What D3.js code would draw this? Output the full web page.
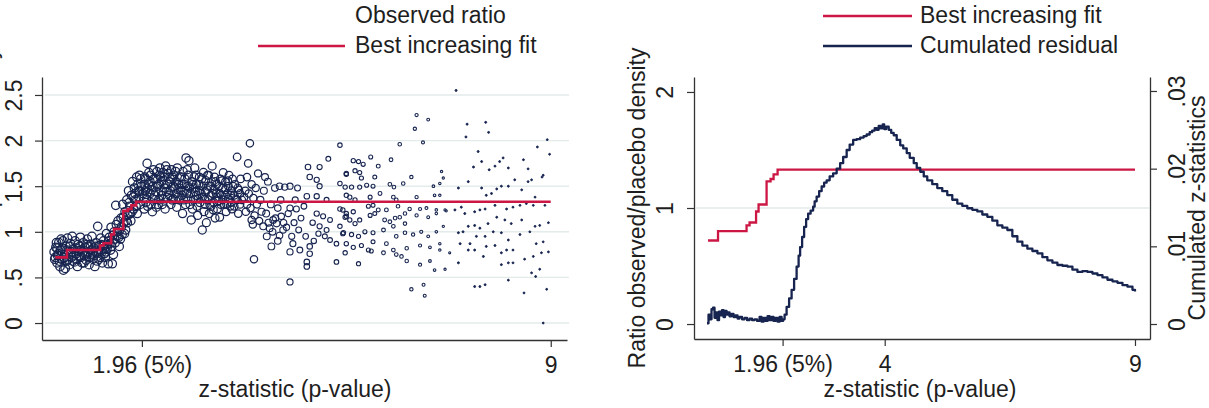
<!DOCTYPE html>
<html>
<head>
<meta charset="utf-8">
<script src="https://cdn.jsdelivr.net/npm/d3@7"></script>
<style>
  body { margin: 0; background: #fff; }
  text { font-family: Arial, "Liberation Sans", sans-serif; fill: #1e1e1e; }
</style>
</head>
<body>
<svg width="1209" height="408"></svg>
<script>
// ---- data ----
// best increasing fit (step function), z-statistic -> ratio
const fitZ = [0.47, 0.67, 1.24, 1.3, 1.43, 1.48, 1.64, 1.72, 1.78, 1.86, 9.0];
const fitR = [0.72, 0.80, 0.85, 0.875, 0.97, 1.03, 1.23, 1.25, 1.29, 1.33, 1.33];

// observed ratio, [z, ratio]
const obsLow = [[0.45,0.78],[0.46,0.7],[0.47,0.72],[0.48,0.83],[0.49,0.88],[0.5,0.66],[0.5,0.82],[0.51,0.74],[0.52,0.76],[0.53,0.88],[0.54,0.68],[0.55,0.62],[0.56,0.8],[0.57,0.92],[0.58,0.7],[0.59,0.82],[0.6,0.9],[0.61,0.58],[0.62,0.72],[0.63,0.75],[0.64,0.6],[0.65,0.84],[0.66,0.68],[0.67,0.8],[0.68,0.93],[0.69,0.7],[0.7,0.78],[0.71,0.64],[0.72,0.84],[0.73,0.87],[0.74,0.78],[0.75,0.72],[0.76,0.95],[0.77,0.68],[0.78,0.81],[0.79,0.74],[0.8,0.67],[0.81,0.9],[0.82,0.82],[0.83,0.76],[0.84,0.7],[0.85,0.62],[0.86,0.86],[0.87,0.79],[0.88,0.73],[0.89,0.84],[0.9,0.94],[0.91,0.72],[0.92,0.8],[0.93,0.66],[0.94,0.78],[0.95,0.88],[0.96,0.66],[0.97,0.74],[0.98,0.83],[0.99,0.76],[1.0,0.69],[1.01,0.86],[1.02,0.92],[1.03,0.78],[1.04,0.84],[1.05,0.64],[1.06,0.72],[1.07,0.86],[1.08,0.75],[1.09,0.8],[1.1,0.95],[1.11,0.77],[1.12,0.7],[1.13,0.82],[1.14,0.74],[1.15,0.62],[1.16,0.84],[1.17,0.88],[1.18,0.77],[1.19,0.68],[1.2,1.06],[1.21,0.78],[1.22,0.7],[1.23,0.85],[1.24,0.72],[1.25,0.93],[1.26,0.86],[1.27,0.78],[1.28,0.66],[1.29,0.84],[1.3,0.9],[1.31,0.76],[1.32,0.82],[1.33,0.72],[1.34,0.78],[1.35,0.98],[1.36,0.82],[1.37,0.86],[1.38,0.65],[1.39,0.9],[1.4,0.94],[1.41,0.87],[1.42,0.8],[1.43,1.05],[1.44,0.84],[1.45,0.65],[1.46,0.96],[1.47,0.75],[1.48,1.0],[1.49,0.92],[1.5,0.88],[1.51,1.29],[1.52,1.08],[1.53,0.95],[1.54,1.0],[1.55,1.12],[1.56,0.94],[1.57,0.84],[1.58,1.02],[1.59,0.92],[1.6,1.15],[1.61,1.06],[1.62,0.97],[1.63,1.3],[1.64,1.16],[1.65,1.1],[1.66,0.98],[1.67,1.22],[1.68,1.02],[1.69,1.12],[1.7,1.35],[1.71,1.1],[1.72,1.18],[1.73,1.45],[1.74,1.32],[1.75,1.28],[1.76,1.2],[1.77,1.12],[1.78,1.4],[1.79,1.22],[1.8,1.55],[1.81,1.38],[1.82,1.25],[1.83,1.48],[1.84,1.42],[1.85,1.35],[1.86,1.28],[1.87,1.6],[1.88,1.2],[1.89,1.52],[1.9,1.45],[1.91,1.38],[1.92,1.62],[1.92,1.44],[1.93,1.3],[1.94,1.58],[1.95,1.5]];

const obsMid = [[1.98,1.42],[2.0,1.25],[2.0,1.38],[2.0,1.52],[2.01,1.6],[2.02,1.45],[2.02,1.58],[2.03,1.32],[2.04,1.36],[2.05,1.75],[2.05,1.48],[2.06,1.28],[2.07,1.52],[2.08,1.65],[2.1,1.55],[2.1,1.42],[2.11,1.62],[2.12,1.3],[2.13,1.46],[2.14,1.22],[2.15,1.36],[2.15,1.5],[2.16,1.68],[2.17,1.58],[2.18,1.4],[2.2,1.44],[2.2,1.58],[2.21,1.27],[2.22,1.66],[2.23,1.5],[2.24,1.3],[2.25,1.52],[2.25,1.35],[2.26,1.62],[2.27,1.7],[2.28,1.6],[2.29,1.45],[2.3,1.4],[2.3,1.55],[2.31,1.3],[2.32,1.65],[2.33,1.36],[2.34,1.52],[2.35,1.48],[2.35,1.6],[2.36,1.25],[2.37,1.72],[2.38,1.44],[2.39,1.68],[2.4,1.38],[2.4,1.52],[2.41,1.64],[2.43,1.4],[2.44,1.55],[2.45,1.45],[2.45,1.58],[2.46,1.3],[2.47,1.68],[2.48,1.35],[2.49,1.6],[2.5,1.5],[2.5,1.36],[2.51,1.62],[2.53,1.48],[2.54,1.66],[2.55,1.42],[2.55,1.55],[2.56,1.27],[2.57,1.7],[2.58,1.38],[2.59,1.52],[2.6,1.48],[2.6,1.35],[2.61,1.6],[2.63,1.45],[2.64,1.6],[2.65,1.52],[2.65,1.4],[2.66,1.2],[2.67,1.66],[2.68,1.35],[2.69,1.52],[2.7,1.45],[2.7,1.58],[2.71,1.3],[2.72,1.81],[2.73,1.42],[2.74,1.68],[2.75,1.5],[2.75,1.36],[2.76,1.62],[2.77,1.78],[2.78,1.48],[2.79,1.3],[2.8,1.42],[2.81,1.13],[2.82,1.55],[2.83,1.25],[2.84,1.52],[2.85,1.48],[2.85,1.35],[2.86,1.6],[2.87,1.7],[2.88,1.44],[2.89,1.62],[2.9,1.4],[2.9,1.52],[2.91,1.28],[2.92,1.18],[2.93,1.36],[2.94,1.52],[2.95,1.45],[2.95,1.6],[2.96,1.32],[2.98,1.42],[2.99,1.58],[3.0,1.02],[3.0,1.38],[3.01,1.5],[3.02,1.65],[3.03,1.22],[3.04,1.36],[3.05,1.44],[3.05,1.3],[3.06,1.56],[3.07,1.1],[3.08,1.46],[3.09,1.62],[3.1,1.35],[3.1,1.5],[3.11,1.62],[3.12,1.2],[3.13,1.3],[3.14,1.5],[3.15,1.4],[3.15,1.28],[3.16,1.55],[3.17,1.72],[3.18,1.42],[3.19,1.24],[3.2,1.46],[3.2,1.32],[3.21,1.6],[3.22,1.15],[3.23,1.55],[3.24,1.42],[3.25,1.38],[3.25,1.52],[3.26,1.25],[3.28,1.34],[3.29,1.5],[3.3,1.16],[3.3,1.42],[3.31,1.58],[3.32,1.3],[3.33,1.4],[3.34,1.56],[3.35,1.48],[3.35,1.35],[3.36,1.65],[3.38,1.3],[3.39,1.46],[3.4,1.4],[3.4,1.55],[3.41,1.22],[3.42,1.3],[3.43,1.42],[3.44,1.56],[3.45,1.36],[3.45,1.5],[3.46,1.62],[3.48,1.28],[3.49,1.4],[3.5,1.32],[3.5,1.45],[3.51,1.25],[3.52,1.58],[3.53,1.5],[3.55,1.4],[3.55,1.28],[3.56,1.52],[3.58,1.36],[3.6,1.82],[3.6,1.35],[3.61,1.48],[3.62,1.2],[3.63,1.46],[3.65,1.3],[3.65,1.42],[3.66,1.58],[3.68,1.35]];

const obsWide = [[3.72,1.38],[3.74,1.45],[3.75,1.22],[3.77,1.6],[3.77,1.3],[3.79,1.75],[3.8,1.42],[3.82,1.97],[3.83,1.26],[3.85,1.52],[3.85,1.13],[3.87,1.08],[3.88,1.37],[3.89,0.7],[3.9,1.18],[3.92,1.48],[3.94,1.3],[3.96,1.64],[3.98,1.12],[4.0,1.35],[4.02,1.22],[4.05,1.06],[4.06,1.45],[4.08,1.6],[4.1,1.2],[4.11,0.95],[4.13,1.55],[4.14,1.1],[4.16,1.04],[4.18,1.3],[4.19,0.84],[4.21,1.0],[4.22,1.13],[4.25,1.48],[4.26,1.15],[4.28,1.09],[4.3,1.26],[4.3,0.9],[4.33,1.5],[4.33,0.96],[4.35,1.35],[4.36,1.17],[4.39,1.02],[4.4,1.1],[4.42,1.49],[4.45,1.05],[4.48,1.2],[4.51,1.5],[4.51,1.26],[4.51,0.78],[4.51,0.45],[4.54,0.95],[4.56,0.87],[4.58,1.1],[4.6,1.35],[4.62,1.25],[4.64,1.48],[4.66,1.02],[4.68,0.8],[4.7,1.15],[4.75,1.28],[4.78,0.95],[4.8,1.39],[4.8,0.67],[4.8,0.62],[4.82,1.71],[4.85,1.6],[4.85,0.84],[4.85,0.76],[4.9,1.1],[4.92,0.9],[4.97,1.57],[4.97,1.39],[4.97,1.2],[5.0,0.98],[5.02,1.71],[5.02,1.5],[5.02,1.06],[5.08,1.17],[5.11,0.95],[5.14,1.35],[5.14,1.02],[5.17,1.8],[5.2,1.13],[5.2,0.91],[5.31,0.87],[5.31,0.67],[5.37,1.95],[5.37,1.53],[5.37,1.06],[5.42,1.24],[5.42,0.98],[5.48,1.64],[5.48,1.17]];

const obsFar = [[5.46,1.49],[5.57,1.49],[5.71,1.49],[5.83,1.51],[5.94,1.5],[5.48,1.4],[5.54,1.38],[5.63,1.35],[5.89,1.38],[6.06,1.42],[6.29,1.38],[6.34,1.35],[6.69,1.38],[7.0,1.4],[7.09,1.4],[5.37,1.25],[5.48,1.2],[5.6,1.22],[5.86,1.28],[5.94,1.29],[6.03,1.24],[6.17,1.24],[6.37,1.28],[6.49,1.2],[6.57,1.25],[6.75,1.25],[6.86,1.26],[7.03,1.24],[7.18,1.24],[5.46,1.16],[5.54,1.13],[5.63,1.09],[5.71,1.13],[5.89,1.18],[5.97,1.2],[6.14,1.13],[6.23,1.11],[6.32,1.15],[6.4,1.16],[6.49,1.09],[6.69,1.18],[6.89,1.16],[7.03,1.2],[7.2,1.23],[5.43,0.99],[5.57,0.97],[5.69,0.95],[5.8,1.0],[5.94,0.99],[6.12,1.02],[6.29,1.06],[6.34,0.95],[6.49,0.99],[6.63,0.97],[6.77,1.0],[6.89,0.95],[7.03,1.0],[7.15,1.06],[5.48,0.87],[5.6,0.83],[5.74,0.85],[5.94,0.89],[6.17,0.87],[6.29,0.8],[6.52,0.82],[6.75,0.85],[6.92,0.83],[7.09,0.87],[5.46,0.77],[5.86,0.8],[5.91,0.79],[6.12,0.77],[6.34,0.75],[6.43,0.73],[6.52,0.68],[6.75,0.64],[6.92,0.68],[7.09,0.8],[7.26,0.77],[5.69,0.65],[7.0,0.58],[7.18,0.59],[6.6,0.37],[6.81,0.42],[6.83,0.3],[6.69,2.28],[6.89,2.23],[6.66,2.13],[6.4,1.96],[6.8,1.98],[5.9,1.82],[6.25,1.79],[5.6,1.78],[5.69,1.77],[5.77,1.74],[5.63,1.67],[5.71,1.65],[5.74,1.59],[5.97,1.6],[6.03,1.72],[6.23,1.52],[6.3,1.49],[6.46,1.53],[6.6,1.6],[7.12,1.66],[7.15,1.59],[6.98,1.5],[7.09,1.53],[5.48,1.63]];

const obsTail = [[7.37,2.55],[7.56,2.18],[7.88,2.2],[7.54,2.04],[7.93,2.09],[8.94,2.01],[8.98,1.85],[8.77,1.93],[7.75,1.88],[8.53,1.79],[8.61,1.69],[8.87,1.62],[7.67,1.71],[7.81,1.77],[7.94,1.68],[8.04,1.72],[8.12,1.77],[8.18,1.81],[8.27,1.7],[7.41,1.48],[7.58,1.55],[7.81,1.48],[7.89,1.4],[7.98,1.42],[8.07,1.47],[8.15,1.5],[8.27,1.5],[8.38,1.57],[8.5,1.46],[8.61,1.55],[8.67,1.57],[8.73,1.38],[8.85,1.6],[7.35,1.24],[7.46,1.27],[7.52,1.2],[7.69,1.22],[7.78,1.24],[7.87,1.25],[8.04,1.29],[8.24,1.25],[8.35,1.27],[8.47,1.29],[8.58,1.31],[8.7,1.29],[8.9,1.29],[7.41,0.99],[7.49,1.0],[7.58,1.06],[7.69,1.07],[7.78,1.04],[7.92,1.09],[8.07,1.16],[8.21,1.13],[8.32,1.09],[8.5,1.13],[8.73,1.06],[8.81,1.07],[8.96,1.1],[7.44,0.87],[7.61,0.87],[7.72,0.95],[7.87,0.95],[8.01,1.0],[8.15,0.99],[8.27,0.91],[8.47,0.97],[8.64,1.0],[8.75,0.87],[8.87,0.89],[7.58,0.8],[7.69,0.8],[7.89,0.84],[8.04,0.85],[8.15,0.77],[8.24,0.8],[8.35,0.8],[8.55,0.7],[8.7,0.73],[8.84,0.77],[8.96,0.78],[7.41,0.66],[7.84,0.73],[8.15,0.64],[8.27,0.66],[8.35,0.66],[8.67,0.55],[8.81,0.59],[7.69,0.4],[7.78,0.4],[7.87,0.42],[8.27,0.47],[8.54,0.33],[8.74,0.51],[8.93,0.37],[8.87,0.0]];

// cumulated residual (right axis), z-statistic -> cumulated value
const cumZ = [0.45,0.48,0.51,0.54,0.57,0.6,0.63,0.66,0.69,0.72,0.75,0.78,0.81,0.84,0.87,0.9,0.94,0.98,1.02,1.06,1.1,1.15,1.2,1.25,1.3,1.35,1.4,1.45,1.5,1.54,1.58,1.62,1.66,1.7,1.74,1.78,1.82,1.86,1.9,1.94,1.97,
  2.0,2.04,2.09,2.14,2.19,2.24,2.28,2.31,2.35,2.39,2.43,2.47,2.52,2.57,2.6,2.64,2.69,2.74,2.79,2.84,2.9,2.97,3.04,3.11,3.17,3.24,3.3,3.37,3.44,3.51,3.58,3.64,3.7,3.75,3.8,3.84,3.88,3.92,3.96,3.99,4.03,
  4.08,4.13,4.18,4.24,4.31,4.37,4.44,4.5,4.58,4.64,4.71,4.78,4.85,4.95,5.05,5.15,5.25,5.35,5.45,5.55,5.65,5.75,5.85,5.95,6.05,6.15,6.25,6.35,6.45,6.55,6.65,6.75,6.85,6.95,7.05,7.15,7.25,7.35,7.45,7.55,7.65,7.75,7.85,7.95,8.05,8.15,8.25,8.35,8.45,8.55,8.65,8.75,8.85,8.95,9.0];
const cumV = [0.0001,0.0012,0.0006,0.0019,0.0021,0.0008,0.0015,0.0005,0.0016,0.0011,0.0018,0.0009,0.0017,0.0012,0.0015,0.0010,0.0013,0.0009,0.0011,0.0007,0.0009,0.0006,0.0008,0.0005,0.0007,0.0005,0.0006,0.0004,0.0009,0.0003,0.0008,0.0004,0.0010,0.0005,0.0009,0.0004,0.0008,0.0003,0.0009,0.0004,0.0006,
  0.0012,0.0022,0.0033,0.0044,0.0058,0.0074,0.0088,0.0099,0.0112,0.0125,0.0135,0.0142,0.0146,0.0151,0.0158,0.0164,0.0171,0.0177,0.0182,0.0185,0.0190,0.0194,0.0200,0.0207,0.0215,0.0224,0.0231,0.0237,0.0238,0.0240,0.0242,0.0244,0.0247,0.0249,0.0252,0.0250,0.0255,0.0252,0.0257,0.0251,0.0254,
  0.0250,0.0246,0.0243,0.0237,0.0230,0.0226,0.0220,0.0214,0.0207,0.0201,0.0196,0.0190,0.0185,0.0180,0.0175,0.0171,0.0166,0.0160,0.0155,0.0152,0.0149,0.0147,0.0145,0.0141,0.0138,0.0133,0.0127,0.0124,0.0121,0.0113,0.0106,0.0101,0.0097,0.0094,0.0091,0.0086,0.0082,0.0079,0.0076,0.0075,0.0074,0.0070,0.0067,0.0068,0.0067,0.0065,0.0063,0.0060,0.0057,0.0055,0.0053,0.0050,0.0048,0.0044,0.0042];

// ticks and labels
const xTicksL = [1.96, 9];
const xLabelsL = ['1.96 (5%)', '9'];
const xTicksR = [1.96, 4, 9];
const xLabelsR = ['1.96 (5%)', '4', '9'];
const yTicksL = [0, 0.5, 1, 1.5, 2, 2.5];
const yLabelsL = ['0', '.5', '1', '1.5', '2', '2.5'];
const yTicksR = [0, 1, 2];
const yLabelsR = ['0', '1', '2'];
const y2Ticks = [0, 0.01, 0.02, 0.03];
const y2Labels = ['0', '.01', '.02', '.03'];
const legendL = ['Observed ratio', 'Best increasing fit'];
const legendR = ['Best increasing fit', 'Cumulated residual'];
const xTitle = 'z-statistic (p-value)';
const yTitle = 'Ratio observed/placebo density';
const y2Title = 'Cumulated z-statistics';

const navy = '#17244f', red = '#cc1744', gridCol = '#e3ebeb', axisCol = '#333';
const fs = 23;

const svg = d3.select('svg');

const fitData = fitZ.map((z, i) => [z, fitR[i]]);
const cumData = cumZ.map((z, i) => [z, cumV[i]]);
const allObs = obsLow.concat(obsMid, obsWide, obsFar, obsTail);

// marker size shrinks with z (weighted markers)
const rScale = d3.scaleLinear()
  .domain([0.4, 2.8, 3.8, 4.6, 5.4, 6.6, 7.3, 9.2])
  .range([4.3, 4.1, 3.7, 3.0, 2.2, 1.7, 1.0, 0.9])
  .clamp(true);

function styleAxis(g) {
  g.select('.domain').attr('stroke', axisCol).attr('stroke-width', 1.3);
  g.selectAll('.tick line').attr('stroke', axisCol).attr('stroke-width', 1.2);
  g.selectAll('.tick text').attr('font-size', fs).attr('fill', '#1e1e1e')
    .style('font-family', 'Arial, "Liberation Sans", sans-serif');
}

function rotateTicks(g, off) {
  g.selectAll('.tick text')
    .attr('x', 0).attr('y', off).attr('dy', 0)
    .attr('text-anchor', 'middle')
    .attr('transform', 'rotate(-90)');
}

// ================= left panel =================
const xL = d3.scaleLinear().domain([0.24, 9.28]).range([42, 567]);
const yL = d3.scaleLinear().domain([-0.186, 2.697]).range([340, 77]);

const gL = svg.append('g');

gL.selectAll('line.grid')
  .data(yTicksL)
  .enter().append('line')
    .attr('class', 'grid')
    .attr('x1', 45).attr('x2', 569)
    .attr('y1', d => yL(d)).attr('y2', d => yL(d))
    .attr('stroke', gridCol).attr('stroke-width', 1.4);

gL.append('g')
  .selectAll('circle')
  .data(allObs)
  .enter().append('circle')
    .attr('cx', d => xL(d[0]))
    .attr('cy', d => yL(d[1]))
    .attr('r', d => rScale(d[0]))
    .attr('fill', d => d[0] > 7.3 ? navy : 'none')
    .attr('stroke', navy)
    .attr('stroke-width', d => d[0] > 7.3 ? 1 : (d[0] < 4 ? 1.25 : 1.1));

const fitLineL = d3.line().x(d => xL(d[0])).y(d => yL(d[1])).curve(d3.curveStepAfter);
gL.append('path')
  .attr('d', fitLineL(fitData))
  .attr('fill', 'none').attr('stroke', red).attr('stroke-width', 2.6);

gL.append('g')
  .attr('transform', 'translate(0,340)')
  .call(d3.axisBottom(xL).tickValues(xTicksL).tickFormat((d, i) => xLabelsL[i])
    .tickSize(7).tickSizeOuter(0).tickPadding(10))
  .call(styleAxis);

gL.append('g')
  .attr('transform', 'translate(42,0)')
  .call(d3.axisLeft(yL).tickValues(yTicksL).tickFormat((d, i) => yLabelsL[i])
    .tickSize(7).tickSizeOuter(0))
  .call(styleAxis)
  .call(g => rotateTicks(g, -20));

gL.append('text')
  .attr('x', 295).attr('y', 397)
  .attr('text-anchor', 'middle').attr('font-size', fs)
  .text(xTitle);

// y title of the left panel is cut off by the image edge; only descenders show
gL.append('text')
  .attr('transform', 'translate(-3,208) rotate(-90)')
  .attr('text-anchor', 'middle').attr('font-size', fs)
  .text(yTitle);

gL.append('text').attr('x', 355).attr('y', 23).attr('font-size', fs).text(legendL[0]);
gL.append('line').attr('x1', 258).attr('x2', 345).attr('y1', 46).attr('y2', 46)
  .attr('stroke', red).attr('stroke-width', 2.6);
gL.append('text').attr('x', 355).attr('y', 53).attr('font-size', fs).text(legendL[1]);

// ================= right panel =================
const xR = d3.scaleLinear().domain([0.19, 9.3]).range([694, 1150]);
const yR = d3.scaleLinear().domain([-0.129, 2.129]).range([339, 77]);
const yR2 = d3.scaleLinear().domain([-0.00193, 0.0318]).range([339, 77]);

const gR = svg.append('g');

gR.append('line')
  .attr('x1', 696).attr('x2', 1149)
  .attr('y1', yR(1)).attr('y2', yR(1))
  .attr('stroke', gridCol).attr('stroke-width', 1.4);

const fitLineR = d3.line().x(d => xR(d[0])).y(d => yR(d[1])).curve(d3.curveStepAfter);
gR.append('path')
  .attr('d', fitLineR(fitData))
  .attr('fill', 'none').attr('stroke', red).attr('stroke-width', 2.3);

// cumulated sum is a step function: drawn with small stairs
const cumLine = d3.line().x(d => xR(d[0])).y(d => yR2(d[1])).curve(d3.curveStepAfter);
gR.append('path')
  .attr('d', cumLine(cumData))
  .attr('fill', 'none').attr('stroke', navy).attr('stroke-width', 2.3)
  .attr('stroke-linejoin', 'round');

gR.append('g')
  .attr('transform', 'translate(0,339)')
  .call(d3.axisBottom(xR).tickValues(xTicksR).tickFormat((d, i) => xLabelsR[i])
    .tickSize(7).tickSizeOuter(0).tickPadding(10))
  .call(styleAxis);

gR.append('g')
  .attr('transform', 'translate(694,0)')
  .call(d3.axisLeft(yR).tickValues(yTicksR).tickFormat((d, i) => yLabelsR[i])
    .tickSize(7).tickSizeOuter(0))
  .call(styleAxis)
  .call(g => rotateTicks(g, -21));

gR.append('g')
  .attr('transform', 'translate(1150,0)')
  .call(d3.axisRight(yR2).tickValues(y2Ticks).tickFormat((d, i) => y2Labels[i])
    .tickSize(7).tickSizeOuter(0))
  .call(styleAxis)
  .call(g => rotateTicks(g, 35));

gR.append('text')
  .attr('x', 920).attr('y', 397)
  .attr('text-anchor', 'middle').attr('font-size', fs)
  .text(xTitle);

gR.append('text')
  .attr('transform', 'translate(645,208) rotate(-90)')
  .attr('text-anchor', 'middle').attr('font-size', fs)
  .text(yTitle);

gR.append('text')
  .attr('transform', 'translate(1205,208) rotate(-90)')
  .attr('text-anchor', 'middle').attr('font-size', fs)
  .text(y2Title);

gR.append('line').attr('x1', 823).attr('x2', 912).attr('y1', 16).attr('y2', 16)
  .attr('stroke', red).attr('stroke-width', 2.6);
gR.append('text').attr('x', 920).attr('y', 23).attr('font-size', fs).text(legendR[0]);
gR.append('line').attr('x1', 823).attr('x2', 912).attr('y1', 46).attr('y2', 46)
  .attr('stroke', navy).attr('stroke-width', 2.6);
gR.append('text').attr('x', 920).attr('y', 53).attr('font-size', fs).text(legendR[1]);
</script>
</body>
</html>
